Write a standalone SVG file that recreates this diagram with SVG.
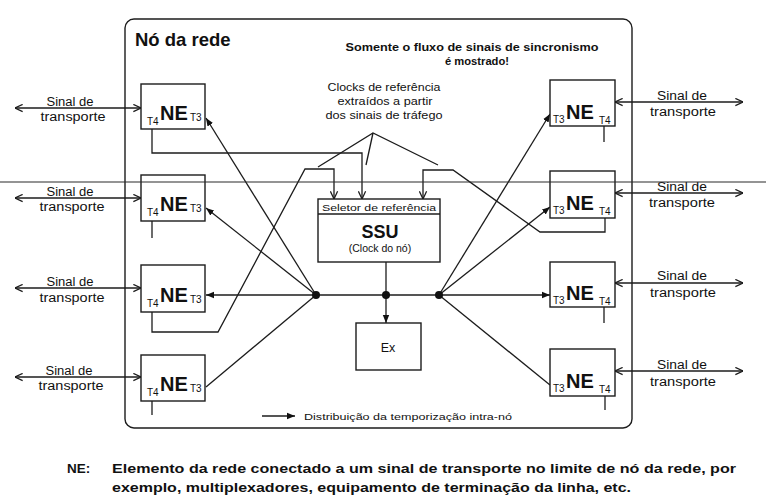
<svg xmlns="http://www.w3.org/2000/svg" width="766" height="498" viewBox="0 0 766 498">
<style>
  .ln{fill:none;stroke:#1c1c1c;stroke-width:1.3}
  .box{fill:#fff;stroke:#1c1c1c;stroke-width:1.4}
  .t{font-family:"Liberation Sans",Arial,sans-serif;fill:#111}
  .b{font-weight:bold}
  .tr{font-size:12.5px;text-anchor:middle}
  .ne{font-size:20px;font-weight:bold}
  .sub{font-size:10px}
  .dot{fill:#111}
</style>
<defs>
  <marker id="open" viewBox="0 0 10 10" refX="9.5" refY="5" markerWidth="9" markerHeight="9" markerUnits="userSpaceOnUse" orient="auto-start-reverse">
    <path d="M1,1 L9.5,5 L1,9" fill="none" stroke="#1c1c1c" stroke-width="1.4"/>
  </marker>
  <marker id="tri" viewBox="0 0 10 10" refX="10" refY="5" markerWidth="8" markerHeight="8" markerUnits="userSpaceOnUse" orient="auto">
    <path d="M0,1 L10,5 L0,9Z" fill="#111"/>
  </marker>
</defs>
<rect width="766" height="498" fill="#fff"/>

<g id="node-rede">
  <rect x="125" y="19" width="507" height="409" rx="9" class="box"/>
  <text x="135" y="46" class="t b" font-size="18.5">Nó da rede</text>
  <text x="472" y="51" class="t b" font-size="10.5" text-anchor="middle" textLength="253" lengthAdjust="spacingAndGlyphs">Somente o fluxo de sinais de sincronismo</text>
  <text x="477" y="65" class="t b" font-size="11" text-anchor="middle" textLength="64" lengthAdjust="spacingAndGlyphs">é mostrado!</text>
</g>

<g id="clocks-label">
  <text x="384" y="91" class="t" font-size="10" text-anchor="middle" textLength="113" lengthAdjust="spacingAndGlyphs">Clocks de referência</text>
  <text x="385" y="105" class="t" font-size="10" text-anchor="middle" textLength="95" lengthAdjust="spacingAndGlyphs">extraídos a partir</text>
  <text x="384" y="119" class="t" font-size="10" text-anchor="middle" textLength="117" lengthAdjust="spacingAndGlyphs">dos sinais de tráfego</text>
</g>

<g id="connectors">
  <!-- transport signals left -->
  <line x1="15" y1="108" x2="141" y2="108" class="ln" marker-start="url(#open)" marker-end="url(#open)"/>
  <line x1="15" y1="198" x2="141" y2="198" class="ln" marker-start="url(#open)" marker-end="url(#open)"/>
  <line x1="15" y1="288" x2="141" y2="288" class="ln" marker-start="url(#open)" marker-end="url(#open)"/>
  <line x1="15" y1="377" x2="141" y2="377" class="ln" marker-start="url(#open)" marker-end="url(#open)"/>
  <!-- transport signals right -->
  <line x1="615" y1="102" x2="743" y2="102" class="ln" marker-start="url(#open)" marker-end="url(#open)"/>
  <line x1="615" y1="193" x2="743" y2="193" class="ln" marker-start="url(#open)" marker-end="url(#open)"/>
  <line x1="615" y1="283" x2="743" y2="283" class="ln" marker-start="url(#open)" marker-end="url(#open)"/>
  <line x1="615" y1="371" x2="743" y2="371" class="ln" marker-start="url(#open)" marker-end="url(#open)"/>

  <!-- reference clock feedback to SSU -->
  <polyline points="152,129 152,153 362,153 362,199" class="ln" marker-end="url(#open)"/>
  <polyline points="152,312 152,332 218,332 305,169 334,169 334,199" class="ln" marker-end="url(#open)"/>
  <polyline points="605,218 605,232 540,232 453,170 423,170 423,199" class="ln" marker-end="url(#open)"/>
  <!-- stubs -->
  <line x1="152" y1="221" x2="152" y2="238" class="ln"/>
  <line x1="152" y1="401" x2="152" y2="415" class="ln"/>
  <line x1="604" y1="126" x2="604" y2="142" class="ln"/>
  <line x1="604" y1="307" x2="604" y2="323" class="ln"/>
  <line x1="605" y1="396" x2="605" y2="410" class="ln"/>

  <!-- callout lines -->
  <polyline points="318,167 373,133 438,165" class="ln"/>
  <line x1="373" y1="133" x2="366" y2="165" class="ln"/>

  <!-- timing distribution -->
  <line x1="386" y1="262" x2="386" y2="323" class="ln" marker-end="url(#tri)"/>
  <line x1="316" y1="295" x2="439" y2="295" class="ln"/>
  <line x1="316" y1="295" x2="206" y2="295" class="ln" marker-end="url(#tri)"/>
  <line x1="316" y1="295" x2="206" y2="118" class="ln" marker-end="url(#tri)"/>
  <line x1="316" y1="295" x2="206" y2="208" class="ln" marker-end="url(#tri)"/>
  <line x1="316" y1="295" x2="206" y2="387" class="ln"/>
  <line x1="439" y1="295" x2="550" y2="295" class="ln" marker-end="url(#tri)"/>
  <line x1="439" y1="295" x2="550" y2="114" class="ln" marker-end="url(#tri)"/>
  <line x1="439" y1="295" x2="550" y2="207" class="ln" marker-end="url(#tri)"/>
  <line x1="439" y1="295" x2="550" y2="385" class="ln"/>
  <circle cx="316" cy="295" r="4" class="dot"/>
  <circle cx="386" cy="295" r="4" class="dot"/>
  <circle cx="439" cy="295" r="4" class="dot"/>
</g>

<g id="transport-labels">
  <text x="70" y="106" class="t tr" textLength="47" lengthAdjust="spacingAndGlyphs">Sinal de</text>
  <text x="73" y="121" class="t tr" textLength="65" lengthAdjust="spacingAndGlyphs">transporte</text>
  <text x="70" y="196" class="t tr" textLength="47" lengthAdjust="spacingAndGlyphs">Sinal de</text>
  <text x="72" y="211" class="t tr" textLength="65" lengthAdjust="spacingAndGlyphs">transporte</text>
  <text x="70" y="286" class="t tr" textLength="47" lengthAdjust="spacingAndGlyphs">Sinal de</text>
  <text x="72" y="302" class="t tr" textLength="65" lengthAdjust="spacingAndGlyphs">transporte</text>
  <text x="69" y="375" class="t tr" textLength="47" lengthAdjust="spacingAndGlyphs">Sinal de</text>
  <text x="71" y="390" class="t tr" textLength="65" lengthAdjust="spacingAndGlyphs">transporte</text>

  <text x="682" y="100" class="t tr" textLength="50" lengthAdjust="spacingAndGlyphs">Sinal de</text>
  <text x="683" y="116" class="t tr" textLength="66" lengthAdjust="spacingAndGlyphs">transporte</text>
  <text x="682" y="191" class="t tr" textLength="50" lengthAdjust="spacingAndGlyphs">Sinal de</text>
  <text x="682" y="207" class="t tr" textLength="66" lengthAdjust="spacingAndGlyphs">transporte</text>
  <text x="682" y="280" class="t tr" textLength="50" lengthAdjust="spacingAndGlyphs">Sinal de</text>
  <text x="683" y="297" class="t tr" textLength="66" lengthAdjust="spacingAndGlyphs">transporte</text>
  <text x="682" y="369" class="t tr" textLength="50" lengthAdjust="spacingAndGlyphs">Sinal de</text>
  <text x="683" y="386" class="t tr" textLength="66" lengthAdjust="spacingAndGlyphs">transporte</text>
</g>

<g id="ne-left-1">
  <rect x="141" y="84" width="64" height="45" class="box"/>
  <text x="147" y="125" class="t sub">T4</text>
  <text x="160" y="120" class="t ne">NE</text>
  <text x="190" y="121" class="t sub">T3</text>
</g>
<g id="ne-left-2">
  <rect x="141" y="175" width="64" height="46" class="box"/>
  <text x="147" y="216" class="t sub">T4</text>
  <text x="160" y="211" class="t ne">NE</text>
  <text x="190" y="212" class="t sub">T3</text>
</g>
<g id="ne-left-3">
  <rect x="141" y="265" width="64" height="47" class="box"/>
  <text x="147" y="307" class="t sub">T4</text>
  <text x="160" y="302" class="t ne">NE</text>
  <text x="190" y="303" class="t sub">T3</text>
</g>
<g id="ne-left-4">
  <rect x="141" y="355" width="64" height="46" class="box"/>
  <text x="147" y="396" class="t sub">T4</text>
  <text x="160" y="391" class="t ne">NE</text>
  <text x="190" y="392" class="t sub">T3</text>
</g>

<g id="ne-right-1">
  <rect x="550" y="80" width="65" height="46" class="box"/>
  <text x="553" y="123" class="t sub">T3</text>
  <text x="566" y="119" class="t ne">NE</text>
  <text x="599" y="124" class="t sub">T4</text>
</g>
<g id="ne-right-2">
  <rect x="550" y="171" width="65" height="47" class="box"/>
  <text x="553" y="214" class="t sub">T3</text>
  <text x="566" y="210" class="t ne">NE</text>
  <text x="599" y="215" class="t sub">T4</text>
</g>
<g id="ne-right-3">
  <rect x="550" y="262" width="65" height="45" class="box"/>
  <text x="553" y="304" class="t sub">T3</text>
  <text x="566" y="300" class="t ne">NE</text>
  <text x="599" y="305" class="t sub">T4</text>
</g>
<g id="ne-right-4">
  <rect x="550" y="349" width="65" height="47" class="box"/>
  <text x="553" y="392" class="t sub">T3</text>
  <text x="566" y="388" class="t ne">NE</text>
  <text x="599" y="393" class="t sub">T4</text>
</g>

<g id="ssu">
  <rect x="318" y="199" width="122" height="63" class="box"/>
  <line x1="318" y1="214" x2="440" y2="214" class="ln"/>
  <text x="379" y="211" class="t" font-size="9.5" text-anchor="middle" textLength="114" lengthAdjust="spacingAndGlyphs">Seletor de referência</text>
  <text x="380" y="238" class="t b" font-size="18" text-anchor="middle">SSU</text>
  <text x="380" y="252" class="t" font-size="10.5" text-anchor="middle">(Clock do nó)</text>
</g>

<g id="ex">
  <rect x="356" y="323" width="65" height="47" class="box"/>
  <text x="388" y="352" class="t" font-size="12.5" text-anchor="middle">Ex</text>
</g>

<g id="legend">
  <line x1="262" y1="416" x2="295" y2="416" class="ln" marker-end="url(#tri)"/>
  <text x="304" y="420" class="t" font-size="9.5" textLength="208" lengthAdjust="spacingAndGlyphs">Distribuição da temporização intra-nó</text>
</g>

<g id="footnote">
  <text x="67" y="473" class="t b" font-size="13.5">NE:</text>
  <text x="112" y="473" class="t b" font-size="13.5" textLength="624" lengthAdjust="spacingAndGlyphs">Elemento da rede conectado a um sinal de transporte no limite de nó da rede, por</text>
  <text x="112" y="492" class="t b" font-size="13.5" textLength="519" lengthAdjust="spacingAndGlyphs">exemplo, multiplexadores, equipamento de terminação da linha, etc.</text>
</g>

<line x1="0" y1="182" x2="766" y2="182" stroke="#2a2a2a" stroke-width="1.2"/>
</svg>
